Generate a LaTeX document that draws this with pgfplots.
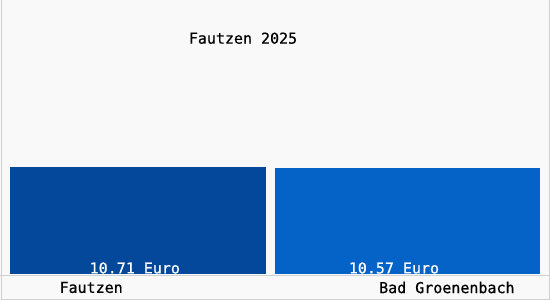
\documentclass[border=0pt]{standalone}
\usepackage{pgfplots}
\pgfplotsset{compat=1.18}
\usepackage{fontspec}
\setmonofont{DejaVu Sans Mono}
\setmainfont{DejaVu Sans Mono}[FakeBold=0.6]
\definecolor{bgc}{HTML}{F9F9F9}
\definecolor{barA}{HTML}{03489A}
\definecolor{barB}{HTML}{0563C8}
\definecolor{brd}{HTML}{D0D0D0}
\begin{document}
\begin{tikzpicture}
\begin{axis}[
  scale only axis,
  width=550pt, height=300pt,
  xmin=0, xmax=550,
  ymin=-2.65, ymax=27.38,
  axis lines=none,
  ticks=none,
  clip=false,
]
\fill[bgc] (rel axis cs:0,0) rectangle (rel axis cs:1,1);
\draw[brd] (rel axis cs:0.002,0.003) -- (rel axis cs:0.998,0.003) -- (rel axis cs:0.998,1);
\draw[brd] (rel axis cs:0.002,0.003) -- (rel axis cs:0.002,1);
\addplot[ybar, bar width=255.5pt, bar shift=0pt, fill=barA, draw=none] coordinates {(137.75,10.71)};
\addplot[ybar, bar width=265.5pt, bar shift=0pt, fill=barB, draw=none] coordinates {(407.75,10.57)};
\draw[brd] (axis cs:0,-0.15) -- (axis cs:550,-0.15);
\node[font=\fontsize{15}{16}\selectfont, anchor=center] at (rel axis cs:0.4418,0.8733) {Fautzen 2025};
\node[font=\fontsize{15}{16}\selectfont, text=white] at (rel axis cs:0.2449,0.1067) {10.71 Euro};
\node[font=\fontsize{15}{16}\selectfont, text=white] at (rel axis cs:0.7164,0.1067) {10.57 Euro};
\node[font=\fontsize{15}{16}\selectfont] at (rel axis cs:0.1655,0.0417) {Fautzen};
\node[font=\fontsize{15}{16}\selectfont] at (rel axis cs:0.8127,0.0417) {Bad Groenenbach};
\end{axis}
\end{tikzpicture}
\end{document}
